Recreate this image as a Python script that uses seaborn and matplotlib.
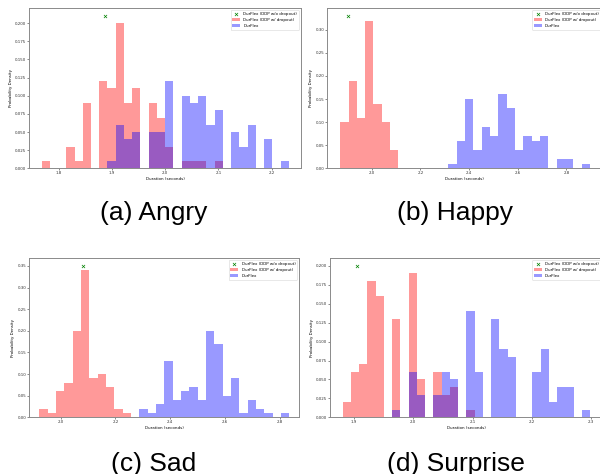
import numpy as np
import pandas as pd
import matplotlib
matplotlib.use("Agg")
import matplotlib.pyplot as plt
import seaborn as sns
from matplotlib.ticker import MultipleLocator

# ---------------- data (counts out of 100 samples per 30 shared bins) ----------------
captions = ["(a) Angry", "(b) Happy", "(c) Sad", "(d) Surprise"]
legend_labels = ["DurFlex (DDP w/o dropout)", "DurFlex (DDP w/ dropout)", "DurFlex"]

# overall duration range (first bin edge, last bin edge) per emotion
range_lo = [1.768, 1.870, 1.923, 1.881]
range_hi = [2.232, 2.896, 2.834, 2.298]

angry_dropout = [1, 0, 0, 3, 1, 9, 0, 12, 11, 20, 9, 11, 0, 9, 7, 3, 0, 1, 1, 1, 0, 1, 0, 0, 0, 0, 0, 0, 0, 0]
angry_durflex = [0, 0, 0, 0, 0, 0, 0, 0, 1, 6, 4, 5, 0, 5, 5, 12, 0, 10, 9, 10, 6, 8, 0, 5, 3, 6, 0, 4, 0, 1]

happy_dropout = [10, 19, 11, 32, 14, 10, 4, 0, 0, 0, 0, 0, 0, 0, 0, 0, 0, 0, 0, 0, 0, 0, 0, 0, 0, 0, 0, 0, 0, 0]
happy_durflex = [0, 0, 0, 0, 0, 0, 0, 0, 0, 0, 0, 0, 0, 1, 6, 15, 4, 9, 7, 16, 13, 4, 7, 6, 7, 0, 2, 2, 0, 1]

sad_dropout = [2, 1, 6, 8, 20, 34, 9, 10, 7, 2, 1, 0, 0, 0, 0, 0, 0, 0, 0, 0, 0, 0, 0, 0, 0, 0, 0, 0, 0, 0]
sad_durflex = [0, 0, 0, 0, 0, 0, 0, 0, 0, 0, 0, 0, 2, 1, 3, 13, 4, 6, 7, 4, 20, 17, 5, 9, 1, 4, 2, 1, 0, 1]

surprise_dropout = [2, 6, 7, 18, 16, 0, 13, 0, 19, 5, 0, 6, 3, 4, 0, 1, 0, 0, 0, 0, 0, 0, 0, 0, 0, 0, 0, 0, 0, 0]
surprise_durflex = [0, 0, 0, 0, 0, 0, 1, 0, 6, 3, 0, 3, 6, 5, 0, 14, 6, 0, 13, 9, 8, 0, 0, 6, 9, 2, 4, 4, 0, 1]

# deterministic duration (no dropout) per emotion
no_dropout_duration = [1.888, 1.904, 2.082, 1.9045]

dropout_sets = [angry_dropout, happy_dropout, sad_dropout, surprise_dropout]
durflex_sets = [angry_durflex, happy_durflex, sad_durflex, surprise_durflex]

x_ticks_step = [0.1, 0.2, 0.2, 0.1]
y_ticks_step = [0.025, 0.05, 0.05, 0.025]
x_limits = [(1.745, 2.255), (1.817, 2.948), (1.886, 2.869), (1.8595, 2.319)]

# ---------------- layout ----------------
W, H = 600, 474
fig = plt.figure(figsize=(W / 100, H / 100), dpi=100)

# axes boxes in pixels: left, right, top, bottom
boxes = [(29.3, 301.0, 8.3, 168.3),
         (327.3, 602.5, 8.3, 168.3),
         (29.3, 299.0, 258.3, 417.3),
         (330.0, 602.5, 258.3, 417.3)]
caption_pos = [(154, 220), (455, 220), (154, 471), (456, 471)]

small = 2.9
spine_col = "#8a8a8a"

for i in range(4):
    l, r, t, b = boxes[i]
    ax = fig.add_axes([l / W, 1 - b / H, (r - l) / W, (b - t) / H])
    edges = np.linspace(range_lo[i], range_hi[i], 31)
    centers = (edges[:-1] + edges[1:]) / 2
    df = pd.DataFrame({
        "duration": centers,
        "dropout": np.array(dropout_sets[i], dtype=float),
        "durflex": np.array(durflex_sets[i], dtype=float),
    })
    peak = max(df["dropout"].max(), df["durflex"].max()) / 100.0

    ax.scatter([no_dropout_duration[i]], [peak + 0.01], marker="x", color="green",
               s=5, linewidths=0.5, label=legend_labels[0], zorder=3)
    sns.histplot(data=df, x="duration", weights="dropout", bins=30,
                 binrange=(range_lo[i], range_hi[i]), stat="probability", color="red",
                 alpha=0.4, linewidth=0, ax=ax, label=legend_labels[1])
    sns.histplot(data=df, x="duration", weights="durflex", bins=30,
                 binrange=(range_lo[i], range_hi[i]), stat="probability", color="blue",
                 alpha=0.4, linewidth=0, ax=ax, label=legend_labels[2])

    ax.set_xlim(*x_limits[i])
    ax.set_ylim(0, (peak + 0.01) * 1.05)
    ax.xaxis.set_major_locator(MultipleLocator(x_ticks_step[i]))
    ax.yaxis.set_major_locator(MultipleLocator(y_ticks_step[i]))
    ax.set_xlabel("Duration (seconds)", fontsize=small, labelpad=1.2)
    ax.set_ylabel("Probability Density", fontsize=small, labelpad=1.5)
    ax.tick_params(labelsize=small, length=1.2, width=0.4, pad=1.0, colors="#333333")
    for sp in ax.spines.values():
        sp.set_linewidth(0.7)
        sp.set_color(spine_col)

    leg = ax.legend(loc="upper right", fontsize=small, frameon=True,
                    borderaxespad=0.5, markerscale=1.0)
    leg.get_frame().set_linewidth(0.4)

    cx, cy = caption_pos[i]
    fig.text(cx / W, 1 - cy / H, captions[i], fontsize=19, family="Liberation Sans",
             ha="center", va="baseline", color="black")

fig.savefig("out.png", dpi=100)
